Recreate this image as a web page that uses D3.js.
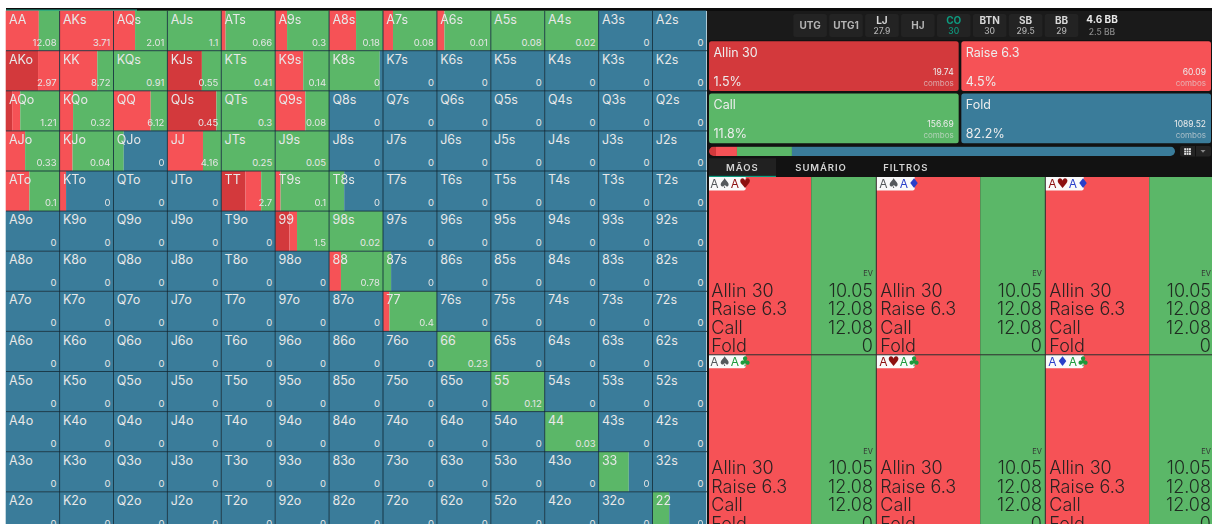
<!DOCTYPE html>
<html>
<head>
<meta charset="utf-8">
<script src="https://cdn.jsdelivr.net/npm/d3@7"></script>
<style>
  html, body { margin: 0; padding: 0; background: #fff; overflow: hidden; }
  svg { display: block; font-family: Inter, "Noto Sans", sans-serif; filter: blur(0.3px); }
</style>
</head>
<body>
<div id="chart"></div>
<script>
const ranks = ['A','K','Q','J','T','9','8','7','6','5','4','3','2'];

// hands that are not pure fold, shares of the cell in %
const mixedHands = ['AA','AKs','AQs','AJs','ATs','A9s','A8s','A7s','A6s','A5s','A4s',
  'AKo','KK','KQs','KJs','KTs','K9s','K8s',
  'AQo','KQo','QQ','QJs','QTs','Q9s',
  'AJo','KJo','QJo','JJ','JTs','J9s',
  'ATo','KTo','TT','T9s','T8s',
  '99','98s','88','87s','77','66','55','44','33','22'];
const allinShare = [0,0,0,0,0,0,0,0,0,0,0,
  60,0,0,64,0,0,0,
  12,0,0,91,0,0,
  0,0,0,0,0,0,
  0,0,45,0,0,
  26.5,0,0,0,0,0,0,0,0,0];
const raiseShare = [61.5,100,40,0,8,22,50,18.5,14,0,0,
  40,70,0,0,0,52,0,
  15,25,69,0,0,56,
  36,24,0,66,0,0,
  44,12,29,10,0,
  14,0,22,0,12,0,0,0,0,0];
const callShare = [38.5,0,60,100,92,78,50,81.5,86,100,100,
  0,30,100,36,100,48,94,
  73,75,31,9,100,44,
  64,76,19,34,100,100,
  56,0,26,90,28,
  59.5,100,78,15,88,100,100,100,56,31];
const combos = ['12.08','3.71','2.01','1.1','0.66','0.3','0.18','0.08','0.01','0.08','0.02',
  '2.97','8.72','0.91','0.55','0.41','0.14','0',
  '1.21','0.32','6.12','0.45','0.3','0.08',
  '0.33','0.04','0','4.16','0.25','0.05',
  '0.1','0','2.7','0.1','0',
  '1.5','0.02','0.78','0','0.4','0.23','0.12','0.03','0','0'];

const actionNames = ['Allin 30','Raise 6.3','Call','Fold'];
const actionPct = [1.5,4.5,11.8,82.2];
const actionCombos = ['19.74','60.09','156.69','1089.52'];
const positions = ['UTG','UTG1','LJ','HJ','CO','BTN','SB','BB'];
const positionStacks = ['','','27.9','','30','30','29.5','29'];
const tabs = ['MÃOS','SUMÁRIO','FILTROS'];
const aaCombos = [['A','♠','A','♥'],['A','♠','A','♦'],['A','♥','A','♦'],['A','♠','A','♣'],['A','♥','A','♣'],['A','♦','A','♣']];
const aaEv = ['10.05','12.08','12.08','0'];

const keys = ['allin','raise','call','fold'];
const color = d3.scaleOrdinal(keys, ['#d3393c','#f65256','#5bb768','#3a7c9a']);
const suitColor = {'♠':'#55595c','♥':'#8c1010','♦':'#2a3fc9','♣':'#1c9a3c'};

const W = 1212, H = 524;
const svg = d3.select('#chart').append('svg').attr('width', W).attr('height', H);

// build the 169 cells
const hands = [];
ranks.forEach((r, i) => ranks.forEach((c, j) => {
  const name = i === j ? r + c : i < j ? r + c + 's' : c + r + 'o';
  const k = mixedHands.indexOf(name);
  const allin = k < 0 ? 0 : allinShare[k], raise = k < 0 ? 0 : raiseShare[k], call = k < 0 ? 0 : callShare[k];
  hands.push({name, row: r, col: c, allin, raise, call, fold: 100 - allin - raise - call, combos: k < 0 ? '0' : combos[k]});
}));

const x = d3.scaleBand().domain(ranks).range([5.7, 706.4]);
const y = d3.scaleBand().domain(ranks).range([10.6, 531.9]);
const share = d3.scaleLinear().domain([0, 100]).range([0, x.bandwidth()]);

// top strip
svg.append('rect').attr('x', 6).attr('y', 8).attr('width', W - 6).attr('height', 3).attr('fill', '#0c0c0c');
svg.append('rect').attr('x', 6).attr('y', 9.5).attr('width', 131).attr('height', 1.5).attr('fill', '#1ca58c');

const grid = svg.append('g').attr('class', 'grid');
const cells = grid.selectAll('g').data(hands).join('g')
  .attr('transform', d => `translate(${x(d.col)},${y(d.row)})`);

const stack = d3.stack().keys(keys);
cells.each(function(d) {
  d3.select(this).selectAll('rect').data(stack([d])).join('rect')
    .attr('x', k => share(k[0][0]))
    .attr('width', k => share(k[0][1]) - share(k[0][0]))
    .attr('height', y.bandwidth())
    .attr('fill', k => color(k.key));
});

// cell borders
grid.append('g').selectAll('line').data(ranks.slice(1)).join('line')
  .attr('x1', d => x(d)).attr('x2', d => x(d)).attr('y1', 11).attr('y2', H)
  .attr('stroke', '#0e2a38').attr('stroke-opacity', 0.85);
grid.append('g').selectAll('line').data(ranks.slice(1)).join('line')
  .attr('x1', 6).attr('x2', 707).attr('y1', d => y(d)).attr('y2', d => y(d))
  .attr('stroke', '#0e2a38').attr('stroke-opacity', 0.85);

cells.append('text').text(d => d.name)
  .attr('x', 3.3).attr('y', 13.2)
  .attr('font-size', 12.5).attr('fill', '#e8e8e8');
cells.append('text').text(d => d.combos)
  .attr('x', x.bandwidth() - 3).attr('y', 35.2)
  .attr('text-anchor', 'end').attr('font-size', 9.5).attr('fill', '#e6e6e6');

// right panel
const panel = svg.append('g').attr('class', 'panel');
panel.append('rect').attr('x', 707).attr('y', 11).attr('width', W - 707).attr('height', H - 11).attr('fill', '#121212');
panel.append('rect').attr('x', 707).attr('y', 11).attr('width', W - 707).attr('height', 29).attr('fill', '#1a1a1a');

const posX = d3.scaleBand().domain(positions).range([793.3, 1078.3]).paddingInner(0.065);
const posG = panel.selectAll('g.pos').data(positions).join('g').attr('class', 'pos')
  .attr('transform', d => `translate(${posX(d)},14)`);
posG.append('rect').attr('width', posX.bandwidth()).attr('height', 23).attr('rx', 2.5).attr('fill', '#232323');
posG.append('text').text(d => d)
  .attr('x', posX.bandwidth() / 2)
  .attr('y', (d, i) => positionStacks[i] ? 9.5 : 15)
  .attr('text-anchor', 'middle').attr('font-size', 10).attr('font-weight', 700)
  .attr('fill', d => d === 'CO' ? '#0d9c80' : d === 'LJ' || d === 'BTN' || d === 'SB' || d === 'BB' ? '#d8d8d8' : '#b4b4b4');
posG.append('text').text((d, i) => positionStacks[i])
  .attr('x', posX.bandwidth() / 2).attr('y', 19.5)
  .attr('text-anchor', 'middle').attr('font-size', 8.5).attr('font-weight', 500)
  .attr('fill', d => d === 'CO' ? '#0d9c80' : '#b0b0b0');
panel.append('text').text('4.6 BB').attr('x', 1102).attr('y', 23)
  .attr('text-anchor', 'middle').attr('font-size', 10).attr('font-weight', 700).attr('fill', '#e8e8e8');
panel.append('text').text('2.5 BB').attr('x', 1102).attr('y', 35)
  .attr('text-anchor', 'middle').attr('font-size', 8.5).attr('font-weight', 500).attr('fill', '#8a8a8a');

// action boxes
const boxX = d3.scaleBand().domain([0, 1]).range([709, 1211]).paddingInner(0.0105);
const boxY = d3.scaleBand().domain([0, 1]).range([41.2, 143.2]).paddingInner(0.05);
const boxes = panel.selectAll('g.box').data(keys).join('g').attr('class', 'box')
  .attr('transform', (d, i) => `translate(${boxX(i % 2)},${boxY(Math.floor(i / 2))})`);
boxes.append('rect').attr('width', boxX.bandwidth()).attr('height', boxY.bandwidth()).attr('rx', 2.5)
  .attr('fill', d => color(d));
boxes.append('text').text((d, i) => actionNames[i]).attr('x', 4.5).attr('y', 15.5)
  .attr('font-size', 12.5).attr('fill', '#ededed');
boxes.append('text').text((d, i) => actionPct[i] + '%').attr('x', 4.5).attr('y', 44.5)
  .attr('font-size', 12.5).attr('fill', '#ededed');
boxes.append('text').text((d, i) => actionCombos[i]).attr('x', boxX.bandwidth() - 5).attr('y', 33.5)
  .attr('text-anchor', 'end').attr('font-size', 8.5).attr('fill', '#ececec');
boxes.append('text').text('combos').attr('x', boxX.bandwidth() - 5).attr('y', 44.5)
  .attr('text-anchor', 'end').attr('font-size', 8).attr('fill', '#e0e0e0').attr('fill-opacity', 0.65);

// mix bar
const barX = d3.scaleLinear().domain([0, 100]).range([709, 1175]);
const clip = svg.append('clipPath').attr('id', 'barclip');
clip.append('rect').attr('x', 709).attr('y', 146.6).attr('width', 466).attr('height', 9.4).attr('rx', 4.7);
const barRow = {}; keys.forEach((k, i) => barRow[k] = actionPct[i]);
panel.append('g').attr('clip-path', 'url(#barclip)')
  .selectAll('rect').data(stack([barRow])).join('rect')
  .attr('x', d => barX(d[0][0])).attr('width', d => barX(d[0][1]) - barX(d[0][0]))
  .attr('y', 146.6).attr('height', 9.4).attr('fill', d => color(d.key));

// view switch button
panel.append('rect').attr('x', 1180).attr('y', 146).attr('width', 31).attr('height', 10.5).attr('rx', 2).attr('fill', '#242424');
panel.append('line').attr('x1', 1195.5).attr('x2', 1195.5).attr('y1', 146).attr('y2', 156.5).attr('stroke', '#111');
const dots = d3.range(9);
panel.append('g').selectAll('rect').data(dots).join('rect')
  .attr('x', d => 1184.2 + (d % 3) * 2.4).attr('y', d => 148.2 + Math.floor(d / 3) * 2.4)
  .attr('width', 1.9).attr('height', 1.9).attr('fill', '#e4e4e4');
panel.append('path').attr('d', d3.line()([[1200.5, 150], [1205.5, 150], [1203, 152.8]])).attr('fill', '#888');

// tabs
panel.append('rect').attr('x', 709).attr('y', 158.3).attr('width', 67).attr('height', 17.5).attr('fill', '#212121');
panel.append('rect').attr('x', 709).attr('y', 175.8).attr('width', 67).attr('height', 1.2).attr('fill', '#0d9c80');
const tabX = d3.scaleOrdinal(tabs, [742.3, 821, 905.8]);
panel.selectAll('text.tab').data(tabs).join('text').attr('class', 'tab').text(d => d)
  .attr('x', d => tabX(d)).attr('y', 171)
  .attr('text-anchor', 'middle').attr('font-size', 9.5).attr('font-weight', 600)
  .attr('letter-spacing', 0.9).attr('fill', '#d4d4d4');

// combos of AA
const aa = hands[0];
const comboX = d3.scaleBand().domain([0, 1, 2]).range([707.3, 1214.3]);
const comboY = d3.scaleBand().domain([0, 1]).range([177, 532.6]);
const comboShare = d3.scaleLinear().domain([0, 100]).range([0, comboX.bandwidth()]);
const handG = panel.selectAll('g.combo').data(aaCombos).join('g').attr('class', 'combo')
  .attr('transform', (d, i) => `translate(${comboX(i % 3)},${comboY(Math.floor(i / 3))})`);
handG.each(function() {
  d3.select(this).selectAll('rect').data(stack([aa])).join('rect')
    .attr('x', k => comboShare(k[0][0]))
    .attr('width', k => comboShare(k[0][1]) - comboShare(k[0][0]))
    .attr('height', comboY.bandwidth())
    .attr('fill', k => color(k.key));
});
panel.append('g').selectAll('line').data([1, 2]).join('line')
  .attr('x1', d => comboX(d)).attr('x2', d => comboX(d)).attr('y1', 177).attr('y2', H)
  .attr('stroke', '#333').attr('stroke-width', 1);
panel.append('line').attr('x1', 709).attr('x2', W).attr('y1', comboY(1)).attr('y2', comboY(1))
  .attr('stroke', '#333').attr('stroke-width', 1);

handG.append('path')
  .attr('d', 'M0,0H38.4V11.5Q38.4,13.5 36.4,13.5H0Z').attr('fill', '#fafafa');
const tag = handG.append('text').attr('x', 3).attr('y', 10.8);
tag.selectAll('tspan').data(d => d.map((g, i) => ({g, suit: d[i % 2 ? i : i + 1]}))).join('tspan')
  .text(d => d.g)
  .attr('font-size', d => d.g === 'A' ? 12 : 13.5)
  .attr('font-family', d => d.g === 'A' ? null : '"DejaVu Sans"')
  .attr('fill', d => suitColor[d.suit]);
// the first column starts after the panel's left edge
panel.append('rect').attr('x', 707).attr('y', 177).attr('width', 2).attr('height', H - 177).attr('fill', '#121212');

handG.append('text').text('EV').attr('x', comboX.bandwidth() - 3.3).attr('y', 98.8)
  .attr('text-anchor', 'end').attr('font-size', 7.5).attr('fill', '#333');
const lineY = d3.scaleBand().domain(actionNames).range([101.5, 175.5]);
handG.selectAll('text.name').data(actionNames).join('text').attr('class', 'name').text(d => d)
  .attr('x', 4).attr('y', d => lineY(d) + 18)
  .attr('font-size', 18).attr('font-weight', 300).attr('fill', '#2b2222');
handG.selectAll('text.ev').data(aaEv).join('text').attr('class', 'ev').text(d => d)
  .attr('x', comboX.bandwidth() - 3.3).attr('y', (d, i) => lineY(actionNames[i]) + 18)
  .attr('text-anchor', 'end').attr('font-size', 18).attr('font-weight', 300).attr('fill', '#1f2a20');
</script>
</body>
</html>
